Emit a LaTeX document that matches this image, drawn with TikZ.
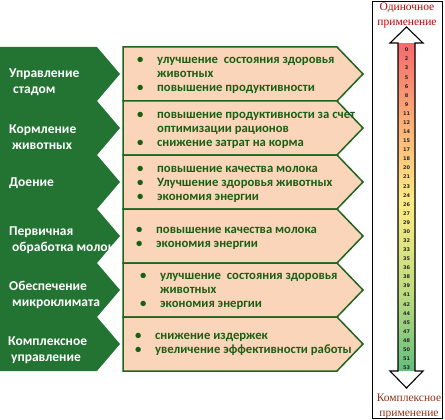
\documentclass[tikz,border=0pt]{standalone}
\usepackage{fontspec}
\setmainfont{Carlito}
\newfontfamily\capfont{Liberation Serif}
\newfontfamily\numfont{DejaVu Sans}
\usetikzlibrary{positioning}
\definecolor{herd}{RGB}{35,115,50}
\definecolor{peach}{RGB}{250,213,185}
\definecolor{rim}{RGB}{30,100,30}
\definecolor{leaf}{RGB}{25,95,20}
\definecolor{single}{RGB}{192,0,0}
\definecolor{multi}{RGB}{140,50,20}
\definecolor{shtop}{RGB}{245,105,107}
\definecolor{shorg}{RGB}{250,175,120}
\definecolor{shmid}{RGB}{255,235,132}
\definecolor{shlgt}{RGB}{190,220,128}
\definecolor{shbot}{RGB}{99,190,123}
\pgfdeclareverticalshading{valuescale}{100bp}{color(0bp)=(shbot); color(25bp)=(shbot); color(37bp)=(shlgt); color(51bp)=(shmid); color(63bp)=(shorg); color(75bp)=(shtop); color(100bp)=(shtop)}
\newcommand{\pts}[1]{\begin{tabular}{@{}p{20pt}@{}l@{}}#1\end{tabular}}

\begin{document}
\begin{tikzpicture}[x=1pt, y=-1pt,
  area/.style={anchor=west, inner sep=0pt, text=white, align=left, font=\bfseries\fontsize{13.5}{16.5}\selectfont},
  effect/.style={anchor=west, inner sep=0pt, text=leaf, font=\bfseries\fontsize{12.7}{14}\selectfont},
  tick/.style={inner sep=0pt, text=black!85, font=\numfont\bfseries\fontsize{5}{5}\selectfont},
  caption/.style={inner sep=0pt, align=center, font=\capfont\fontsize{11.5}{15}\selectfont}]
\useasboundingbox (0,0) rectangle (445,420);

% Green row shapes
\foreach \i in {0,...,5}{
  \pgfmathsetmacro{\ya}{47+54*\i}
  \pgfmathsetmacro{\yb}{\ya+54}
  \pgfmathsetmacro{\ym}{\ya+27}
  \fill[herd] (0,\ya) -- (97,\ya) -- (120,\ym) -- (97,\yb) -- (0,\yb) -- cycle;
}

% Labels in the green rows
\node[area] (a1) at (9,82) {Управление\\\hspace*{4pt}стадом};
\node[area] (a2) at (9,137) {Кормление\\\hspace*{3pt}животных};
\node[area] (a3) at (9,183) {Доение};
\node[area] (a4) at (9,240) {Первичная\\\hspace*{3pt}обработка молока};
\node[area] (a5) at (9,295) {Обеспечение\\\hspace*{3pt}микроклимата};
\node[area] (a6) at (8,350) {Комплексное\\\hspace*{3pt}управление};

% Peach row shapes
\foreach \i in {0,...,5}{
  \pgfmathsetmacro{\ya}{47+54*\i}
  \pgfmathsetmacro{\yb}{\ya+54}
  \pgfmathsetmacro{\ym}{\ya+27}
  \filldraw[fill=peach, draw=rim, line width=1.5pt, line join=miter] (123,\ya) -- (337,\ya) -- (363,\ym) -- (337,\yb) -- (123,\yb) -- cycle;
}

% Effects in the peach rows
\node[effect] (e1) at (137,75) {\pts{\textbullet & улучшение\ \ состояния здоровья\\ & животных\\ \textbullet & повышение продуктивности}};
\node[effect] (e2) at (137,130) {\pts{\textbullet & повышение продуктивности за счет\\ & оптимизации рационов\\ \textbullet & снижение затрат на корма}};
\node[effect] (e3) at (137,184) {\pts{\textbullet & повышение качества молока\\ \textbullet & Улучшение здоровья животных\\ \textbullet & экономия энергии}};
\node[effect] (e4) at (136,238) {\pts{\textbullet & повышение качества молока\\ \textbullet & экономия энергии}};
\node[effect] (e5) at (140,291) {\pts{\textbullet & улучшение\ \ состояния здоровья\\ & животных\\ \textbullet & экономия энергии}};
\node[effect] (e6) at (135,344) {\pts{\textbullet & снижение издержек\\ \textbullet & увеличение эффективности работы}};

% Scale panel
\draw[line width=0.8pt] (372,1) rectangle (442,418);
\node[caption, text=single] (single) at (407,15) {Одиночное\\применение};
\node[caption, text=multi] (multi) at (409,406) {Комплексное\\применение};

% Double arrow
\shade[shading=valuescale] (398,43) rectangle (415,371);
\fill[white] (390,43) -- (406.5,27) -- (423,43) -- cycle;
\fill[white] (390,371) -- (406.5,388) -- (423,371) -- cycle;
\draw[line width=1.1pt, line join=miter] (398,43) -- (390,43) -- (406.5,27) -- (423,43) -- (415,43) -- (415,371) -- (423,371) -- (406.5,388) -- (390,371) -- (398,371) -- cycle;

% Scale values
\foreach \v [count=\k from 0] in {0,2,3,5,6,8,9,11,12,14,15,17,18,20,21,23,24,26,27,29,30,32,33,35,36,38,39,41,42,44,45,47,48,50,51,53}
  \node[tick] (v\k) at (406.5,50+9.08*\k) {\v};

\end{tikzpicture}
\end{document}
